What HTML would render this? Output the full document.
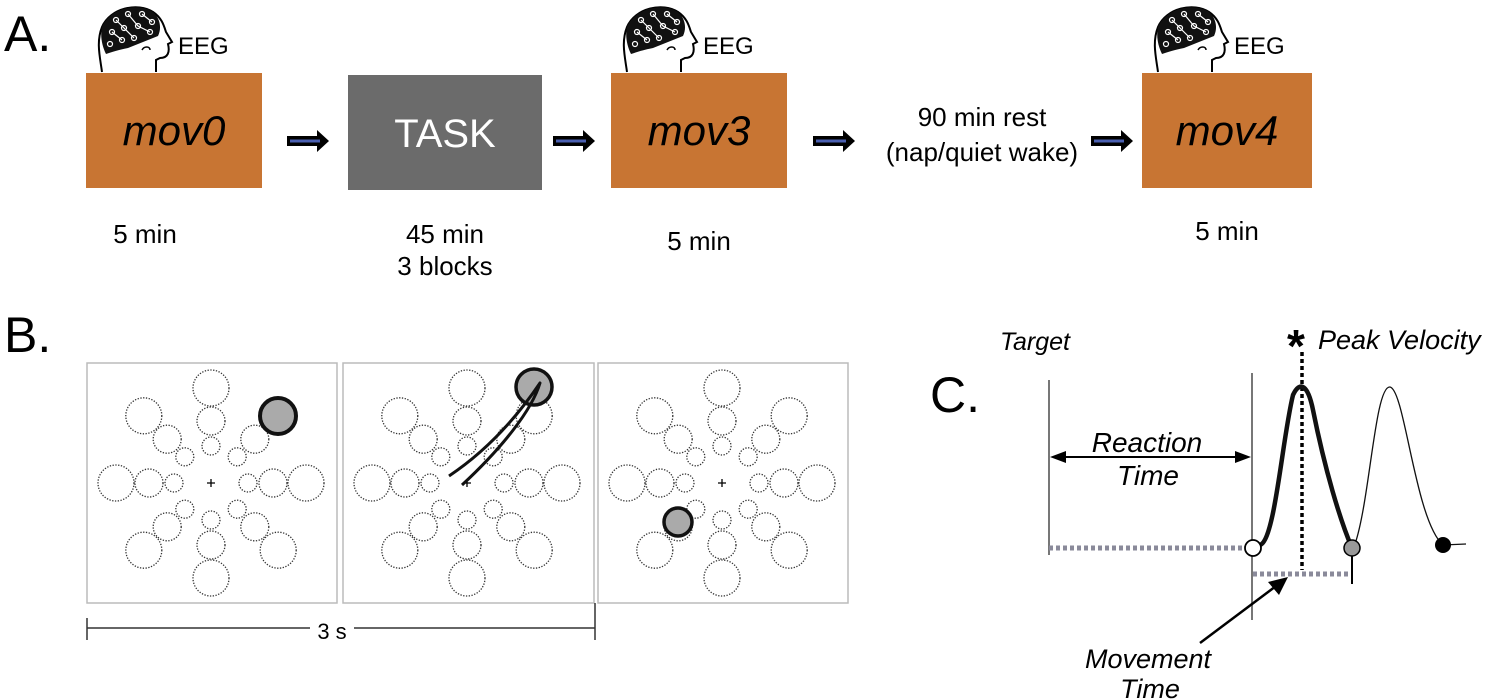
<!DOCTYPE html>
<html><head><meta charset="utf-8"><style>
html,body{margin:0;padding:0;background:#fff;}
svg{display:block;font-family:"Liberation Sans",Arial,sans-serif;}
</style></head><body>
<svg width="1496" height="700" viewBox="0 0 1496 700" xmlns="http://www.w3.org/2000/svg">
<defs>
<g id="wheel" fill="none" stroke="#333" stroke-width="1.3" stroke-dasharray="1.3 1.5">
<circle cx="37" cy="0" r="9"/><circle cx="62" cy="0" r="14"/><circle cx="95" cy="0" r="18"/>
<circle cx="-37" cy="0" r="9"/><circle cx="-62" cy="0" r="14"/><circle cx="-95" cy="0" r="18"/>
<circle cx="0" cy="37" r="9"/><circle cx="0" cy="62" r="14"/><circle cx="0" cy="95" r="18"/>
<circle cx="0" cy="-37" r="9"/><circle cx="0" cy="-62" r="14"/><circle cx="0" cy="-95" r="18"/>
<circle cx="26.2" cy="26.2" r="9"/><circle cx="43.8" cy="43.8" r="14"/><circle cx="67.2" cy="67.2" r="18"/>
<circle cx="-26.2" cy="26.2" r="9"/><circle cx="-43.8" cy="43.8" r="14"/><circle cx="-67.2" cy="67.2" r="18"/>
<circle cx="26.2" cy="-26.2" r="9"/><circle cx="43.8" cy="-43.8" r="14"/><circle cx="67.2" cy="-67.2" r="18"/>
<circle cx="-26.2" cy="-26.2" r="9"/><circle cx="-43.8" cy="-43.8" r="14"/><circle cx="-67.2" cy="-67.2" r="18"/>
<path d="M-4 0H4M0 -4V4" stroke="#000" stroke-dasharray="none" stroke-width="1.3"/>
</g>
<g id="head">
<path d="M4 70 C2 55 -2 40 4 25 C12 6 40 0 55 10 C64 16 66 24 68 30 L74 40 L70 42 C72 50 70 56 62 56 L58 58 L58 70" fill="none" stroke="#000" stroke-width="2"/>
<path d="M4 25 C12 6 40 0 55 10 C62 16 64 26 60 34 C50 38 40 42 30 46 C20 48 14 50 8 52 C4 44 2 34 4 25Z" fill="#111"/>
<g fill="none" stroke="#fff" stroke-width="1.2">
<circle cx="18" cy="18" r="2.5"/><circle cx="30" cy="12" r="2.5"/><circle cx="44" cy="12" r="2.5"/><circle cx="54" cy="20" r="2.5"/>
<circle cx="14" cy="30" r="2.5"/><circle cx="26" cy="26" r="2.5"/><circle cx="40" cy="24" r="2.5"/><circle cx="52" cy="30" r="2.5"/>
<circle cx="12" cy="42" r="2.5"/><circle cx="24" cy="38" r="2.5"/><circle cx="36" cy="36" r="2.5"/>
<path d="M18 18L26 26L36 36M30 12L40 24L52 30M14 30L24 38M44 12L54 20"/>
</g>
<path d="M44 48 C46 44 52 44 52 48" fill="none" stroke="#000" stroke-width="1.5"/>
</g>
<g id="arr">
<path d="M0 -5H30V-11L42 0L30 11V5H0Z" fill="#000"/>
<path d="M3 0H33" stroke="#4a5fb0" stroke-width="3"/>
</g>
</defs>

<!-- Panel A -->
<text x="4" y="51" font-size="50">A.</text>
<use href="#head" x="98" y="2"/>
<text x="178" y="54" font-size="24">EEG</text>
<rect x="86" y="73" width="176" height="115" fill="#c87533"/>
<text x="174" y="145" font-size="42" font-style="italic" text-anchor="middle">mov0</text>
<use href="#arr" x="287" y="141"/>
<rect x="348" y="75" width="194" height="115" fill="#6b6b6b"/>
<text x="445" y="147" font-size="40" fill="#fff" text-anchor="middle">TASK</text>
<use href="#arr" x="553" y="141"/>
<use href="#head" x="623" y="2"/>
<text x="703" y="54" font-size="24">EEG</text>
<rect x="611" y="73" width="176" height="115" fill="#c87533"/>
<text x="699" y="145" font-size="42" font-style="italic" text-anchor="middle">mov3</text>
<use href="#arr" x="813" y="141"/>
<text x="982" y="126" font-size="26" text-anchor="middle">90 min rest</text>
<text x="982" y="161" font-size="26" text-anchor="middle">(nap/quiet wake)</text>
<use href="#arr" x="1091" y="141"/>
<use href="#head" x="1154" y="2"/>
<text x="1234" y="54" font-size="24">EEG</text>
<rect x="1142" y="73" width="170" height="115" fill="#c87533"/>
<text x="1227" y="145" font-size="42" font-style="italic" text-anchor="middle">mov4</text>
<text x="145" y="243" font-size="26" text-anchor="middle">5 min</text>
<text x="445" y="243" font-size="26" text-anchor="middle">45 min</text>
<text x="445" y="275" font-size="26" text-anchor="middle">3 blocks</text>
<text x="699" y="250" font-size="26" text-anchor="middle">5 min</text>
<text x="1227" y="240" font-size="26" text-anchor="middle">5 min</text>

<!-- Panel B -->
<text x="4" y="352" font-size="50">B.</text>
<rect x="87" y="363" width="250" height="240" fill="none" stroke="#bbb" stroke-width="1.5"/>
<rect x="343" y="363" width="251" height="240" fill="none" stroke="#bbb" stroke-width="1.5"/>
<rect x="598" y="363" width="250" height="240" fill="none" stroke="#bbb" stroke-width="1.5"/>
<use href="#wheel" x="211" y="483"/>
<use href="#wheel" x="467" y="483"/>
<use href="#wheel" x="722" y="483"/>
<circle cx="278" cy="416" r="18" fill="#aaa" stroke="#111" stroke-width="4"/>
<circle cx="534" cy="387" r="18" fill="#aaa" stroke="#111" stroke-width="3.5"/>
<path d="M449 476 C485 452 515 420 540 383 C532 410 502 448 462 485" fill="none" stroke="#111" stroke-width="3" stroke-linejoin="round"/>
<circle cx="678" cy="522" r="14" fill="#aaa" stroke="#111" stroke-width="3.5"/>
<path d="M87 628H595M87 618V640M595 603V640" stroke="#333" stroke-width="1.5"/>
<rect x="310" y="618" width="44" height="20" fill="#fff"/>
<text x="332" y="639" font-size="22" text-anchor="middle">3 s</text>

<!-- Panel C -->
<text x="930" y="412" font-size="50">C.</text>
<text x="1000" y="350" font-size="25" font-style="italic">Target</text>
<text x="1287" y="362" font-size="46" font-weight="bold">*</text>
<text x="1318" y="349" font-size="27" font-style="italic">Peak Velocity</text>
<path d="M1049 380V555M1252 373V620" stroke="#777" stroke-width="2"/>
<path d="M1062 457H1240" stroke="#000" stroke-width="2"/>
<path d="M1050 457L1066 451V463Z M1251 457L1235 451V463Z" fill="#000"/>
<text x="1147" y="452" font-size="28" font-style="italic" text-anchor="middle">Reaction</text>
<text x="1148" y="485" font-size="28" font-style="italic" text-anchor="middle">Time</text>
<path d="M1049 548H1244" stroke="#8a8a9a" stroke-width="5" stroke-dasharray="4 3"/>
<path d="M1253 574H1352" stroke="#8a8a9a" stroke-width="5" stroke-dasharray="4 3"/>
<path d="M1302 352V570" stroke="#000" stroke-width="3.5" stroke-dasharray="4 3"/>
<path d="M1260 545 C1275 540 1282 440 1293 395 C1300 380 1308 385 1313 410 C1325 470 1340 520 1352 548" fill="none" stroke="#111" stroke-width="4.5"/>
<path d="M1355 544 C1370 500 1375 385 1390 387 C1405 390 1415 520 1443 545 L1466 544" fill="none" stroke="#111" stroke-width="1.3"/>
<path d="M1352 548V584" stroke="#000" stroke-width="2"/>
<circle cx="1253" cy="548" r="8" fill="#fff" stroke="#000" stroke-width="1.8"/>
<circle cx="1352" cy="548" r="8" fill="#999" stroke="#000" stroke-width="1.5"/>
<circle cx="1443" cy="545" r="8" fill="#000"/>
<path d="M1200 643L1280 583" stroke="#000" stroke-width="2.5"/>
<path d="M1288 577L1268 582L1279 595Z" fill="#000"/>
<text x="1148" y="668" font-size="27" font-style="italic" text-anchor="middle">Movement</text>
<text x="1150" y="698" font-size="27" font-style="italic" text-anchor="middle">Time</text>
</svg>
</body></html>
